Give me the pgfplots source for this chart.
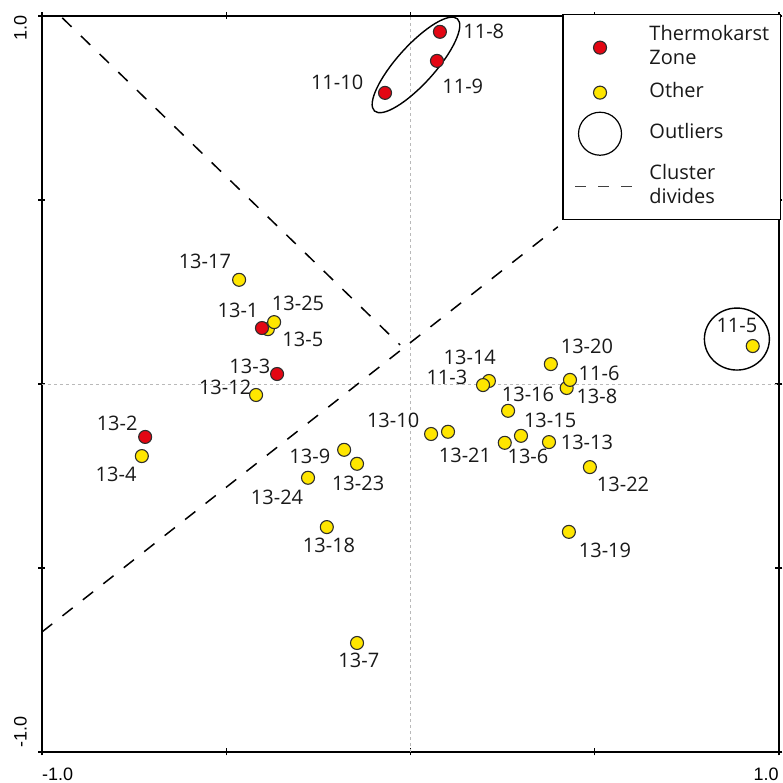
\documentclass[border=0pt]{standalone}
\usepackage{pgfplots}
\pgfplotsset{compat=1.18}
\usepackage{fontspec}
\setmainfont{Open Sans}
\newfontfamily\tickfont{Liberation Sans}
\definecolor{mred}{RGB}{227,6,19}
\definecolor{myel}{RGB}{255,230,0}
\definecolor{medge}{RGB}{45,45,45}
\definecolor{lbl}{RGB}{25,25,25}
\begin{document}
\begin{tikzpicture}
\begin{axis}[name=ax,
  width=737bp, height=736bp, scale only axis,
  xmin=-1, xmax=1, ymin=-1, ymax=1,
  xtick={-1,-0.5,0,0.5,1}, ytick={-1,-0.5,0,0.5,1},
  xticklabels={}, yticklabels={},
  tick align=center, major tick length=7bp,
  every tick/.style={black, line width=1.2bp},
  axis line style={line width=1.6bp},
  clip=false,
  font=\fontsize{20bp}{24bp}\selectfont,
  legend style={at={(1,1)}, anchor=north east, xshift=2bp, yshift=2bp,
    draw=black, line width=1.3bp, inner xsep=9bp, inner ysep=7bp,
    row sep=5bp, column sep=15bp, font=\fontsize{20bp}{24bp}\selectfont,
    nodes={inner sep=2bp, text=lbl, text depth=}},
  legend cell align=left,
]
% zero grid lines
\draw[gray!55, line width=0.8bp, dash pattern=on 3bp off 3bp] (axis cs:0,-1) -- (axis cs:0,1);
\draw[gray!55, line width=0.8bp, dash pattern=on 3bp off 3bp] (axis cs:-1,0) -- (axis cs:1,0);
% cluster divides
\addplot[forget plot, black, line width=1.5bp, dash pattern=on 13bp off 13bp] coordinates {(-0.945,0.995) (-0.028,0.106)};
\addplot[forget plot, black, line width=1.5bp, dash pattern=on 13bp off 13bp] coordinates {(-1,-0.674) (0.40,0.427)};
% outlier ellipses
\draw[line width=1.4bp, rotate around={48:(axis cs:0.015,0.867)}] (axis cs:0.015,0.867) ellipse [x radius=62bp, y radius=19bp];
\draw[line width=1.4bp] (axis cs:0.886,0.122) ellipse [x radius=32.5bp, y radius=31bp];
% points
\addplot[forget plot, only marks, mark=*, mark size=6.5bp, mark options={fill=myel, draw=medge, line width=1.1bp}] coordinates {(-0.387,0.149)};
\addplot[only marks, mark=*, mark size=6.5bp, mark options={fill=mred, draw=medge, line width=1.1bp},
  legend image code/.code={\path[draw=none,fill=none] (0bp,0bp) -- (56bp,0bp); \draw[only marks] plot coordinates {(28bp,0bp)};}]
  coordinates {(0.080,0.957) (0.072,0.878) (-0.069,0.791) (-0.403,0.152) (-0.362,0.027) (-0.720,-0.144)};
\addlegendentry{\begin{tabular}{@{}l@{}}Thermokarst\\Zone\end{tabular}}
\addplot[only marks, mark=*, mark size=6.5bp, mark options={fill=myel, draw=medge, line width=1.1bp},
  legend image code/.code={\path[draw=none,fill=none] (0bp,0bp) -- (56bp,0bp); \draw[only marks] plot coordinates {(28bp,0bp)};}]
  coordinates {(-0.465,0.283) (-0.370,0.168) (-0.419,-0.030) (-0.729,-0.196) (-0.180,-0.179) (-0.145,-0.217)
   (-0.278,-0.255) (-0.227,-0.389) (-0.145,-0.704) (0.056,-0.136) (0.102,-0.130) (0.213,0.008) (0.197,-0.003)
   (0.265,-0.073) (0.256,-0.160) (0.300,-0.141) (0.381,0.054) (0.424,-0.011) (0.433,0.011) (0.376,-0.158)
   (0.487,-0.226) (0.430,-0.402) (0.929,0.103)};
\addlegendentry{\begin{tabular}{@{}l@{}}Other\end{tabular}}
\addlegendimage{legend image code/.code={\path[draw=none,fill=none] (0bp,-22bp) -- (56bp,22bp); \draw[black, fill=none, line width=1.2bp] (28bp,0bp) circle (21.5bp);}}
\addlegendentry{\begin{tabular}{@{}l@{}}Outliers\end{tabular}}
\addlegendimage{legend image code/.code={\path[draw=none,fill=none] (0bp,0bp) -- (56bp,0bp); \draw[black!75, line width=0.9bp, dash pattern=on 11bp off 12bp] (3bp,0bp) -- (60bp,0bp);}}
\addlegendentry{\begin{tabular}{@{}l@{}}Cluster\\divides\end{tabular}}
% point labels
\begin{scope}[every node/.style={text=lbl, inner sep=0pt}]
\node at (axis cs:0.199,0.959) {11-8};
\node at (axis cs:0.142,0.810) {11-9};
\node at (axis cs:-0.199,0.821) {11-10};
\node at (axis cs:-0.558,0.332) {13-17};
\node at (axis cs:-0.305,0.220) {13-25};
\node at (axis cs:-0.468,0.201) {13-1};
\node at (axis cs:-0.292,0.122) {13-5};
\node at (axis cs:-0.436,0.049) {13-3};
\node at (axis cs:-0.503,-0.008) {13-12};
\node at (axis cs:-0.796,-0.106) {13-2};
\node at (axis cs:-0.799,-0.247) {13-4};
\node at (axis cs:-0.273,-0.196) {13-9};
\node at (axis cs:-0.142,-0.269) {13-23};
\node at (axis cs:-0.362,-0.307) {13-24};
\node at (axis cs:-0.221,-0.438) {13-18};
\node at (axis cs:-0.140,-0.750) {13-7};
\node at (axis cs:0.528,-0.451) {13-19};
\node at (axis cs:-0.047,-0.098) {13-10};
\node at (axis cs:0.161,0.073) {13-14};
\node at (axis cs:0.099,0.019) {11-3};
\node at (axis cs:0.319,-0.027) {13-16};
\node at (axis cs:0.379,-0.098) {13-15};
\node at (axis cs:0.148,-0.193) {13-21};
\node at (axis cs:0.319,-0.196) {13-6};
\node at (axis cs:0.479,-0.160) {13-13};
\node at (axis cs:0.479,0.101) {13-20};
\node at (axis cs:0.512,0.030) {11-6};
\node at (axis cs:0.506,-0.035) {13-8};
\node at (axis cs:0.577,-0.272) {13-22};
\node at (axis cs:0.886,0.160) {11-5};
\end{scope}
\end{axis}
% tick labels
\begin{scope}[every node/.style={font=\tickfont\fontsize{18bp}{20bp}\selectfont, inner sep=0pt, text=black}]
\node[anchor=north west] at ([yshift=-16bp]ax.south west) {-1.0};
\node[anchor=north east] at ([yshift=-16bp]ax.south east) {1.0};
\node[rotate=90, anchor=south west] at ([xshift=-15bp, yshift=4bp]ax.south west) {-1.0};
\node[rotate=90, anchor=south east] at ([xshift=-15bp, yshift=1bp]ax.north west) {1.0};
\end{scope}
% picture extent
\path ([xshift=-42bp, yshift=-31bp]ax.south west) -- ([xshift=2bp, yshift=16bp]ax.north east);
\end{tikzpicture}
\end{document}
